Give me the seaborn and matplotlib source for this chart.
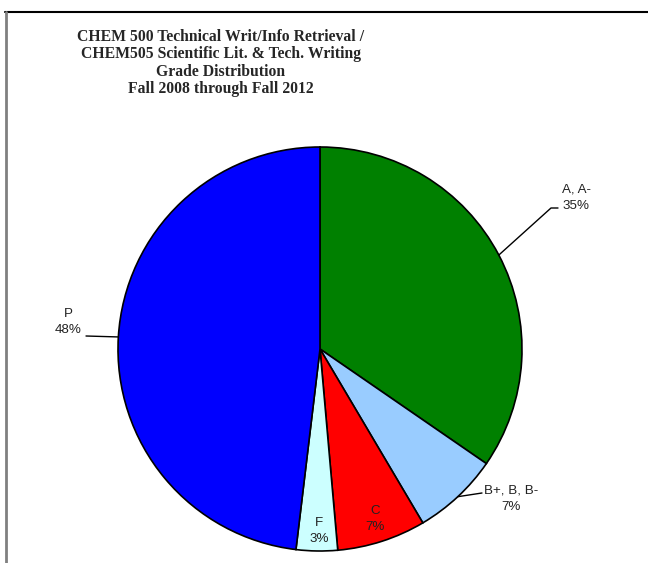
import numpy as np
import matplotlib
matplotlib.use("Agg")
import matplotlib.pyplot as plt
import seaborn as sns
from matplotlib.lines import Line2D

sns.set_style("white")

categories = ["A, A-", "B+, B, B-", "C", "F", "P"]
shares = [34.6, 6.9, 7.1, 3.3, 48.1]
colors = ["#008000", "#99CCFF", "#FF0000", "#CCFFFF", "#0000FF"]
title_lines = ["CHEM 500 Technical Writ/Info Retrieval /",
               "CHEM505 Scientific Lit. & Tech. Writing",
               "Grade Distribution",
               "Fall 2008 through Fall 2012"]

W, H = 648, 563
fig = plt.figure(figsize=(W / 100, H / 100), dpi=100)
ax = fig.add_axes([0, 0, 1, 1])
ax.set_xlim(0, W)
ax.set_ylim(0, H)
ax.axis("off")

cx, cy, r = 320, H - 349, 202
wedges, _ = ax.pie(shares, colors=colors, startangle=90, counterclock=False,
                   center=(cx, cy), radius=r, frame=True,
                   wedgeprops=dict(edgecolor="black", linewidth=1.2))
ax.set_xlim(0, W)
ax.set_ylim(0, H)
ax.set_aspect("auto")
ax.axis("off")

lab_font = dict(family="Liberation Sans", fontsize=9.6, color="#222222",
                ha="center", va="center", linespacing=1.5)

def edge_point(w):
    a = np.deg2rad((w.theta1 + w.theta2) / 2)
    return cx + r * np.cos(a), cy + r * np.sin(a)

total = sum(shares)
pct = [f"{round(s / total * 100):d}%" for s in shares]

# label layout (pixel positions, y measured from top)
label_pos = {0: (576, 198), 1: (511, 499), 2: (375, 519), 3: (319, 531), 4: (68, 322)}
leader_end = {0: [(551, 208), (558, 208)], 1: [(482, 493)], 4: [(86, 336)]}

for i, w in enumerate(wedges):
    x, y = label_pos[i]
    ax.text(x, H - y, f"{categories[i]}\n{pct[i]}", **lab_font)
    if i in leader_end:
        ex, ey = edge_point(w)
        xs = [ex] + [p[0] for p in leader_end[i]]
        ys = [ey] + [H - p[1] for p in leader_end[i]]
        ax.plot(xs, ys, color="black", lw=1.0)

fig.text(221 / W, 1 - 63 / H, "\n".join(title_lines), ha="center", va="center",
         family="Liberation Serif", fontweight="bold", fontsize=11.3,
         linespacing=1.13)

# frame lines
fig.add_artist(Line2D([5 / W, 1], [1 - 12 / H, 1 - 12 / H], color="black", lw=1.5,
                      transform=fig.transFigure))
fig.add_artist(Line2D([6 / W, 6 / W], [0, 1 - 12 / H], color="#808080", lw=2,
                      transform=fig.transFigure))

fig.savefig("out.png", dpi=100)
